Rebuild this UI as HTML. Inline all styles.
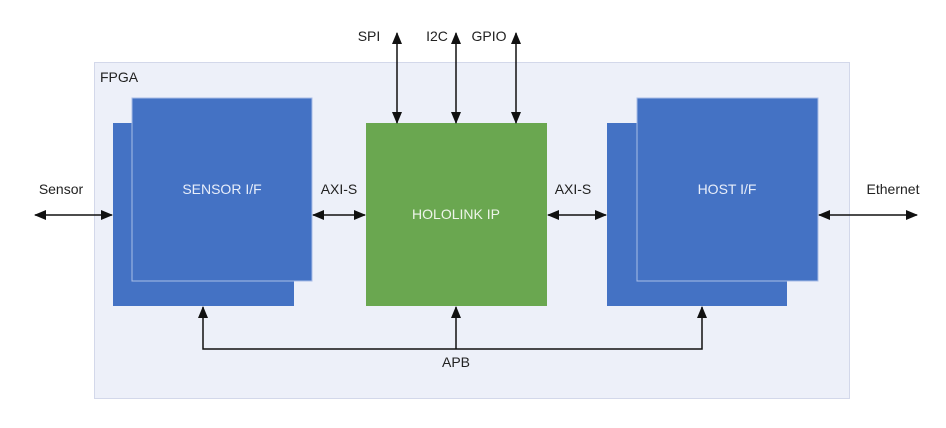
<!DOCTYPE html>
<html><head><style>
body{margin:0;background:#fff;}
svg{display:block;}
text{font-family:"Liberation Sans",sans-serif;font-size:14px;}
</style></head><body>
<svg width="946" height="428" viewBox="0 0 946 428" xmlns="http://www.w3.org/2000/svg">
<defs>
<marker id="a" viewBox="0 0 12 10" refX="11" refY="5" markerWidth="12" markerHeight="10" markerUnits="userSpaceOnUse" orient="auto-start-reverse">
<path d="M0,0 L12,5 L0,10 z" fill="#111"/></marker>
</defs>
<rect x="94.5" y="62.5" width="755" height="336" fill="#edf0f9" stroke="#d3d8ea"/>
<text x="100" y="82" fill="#222">FPGA</text>
<rect x="113" y="123" width="181" height="183" fill="#4472c4"/>
<rect x="132" y="98" width="180" height="183" fill="#4472c4" stroke="#a9bde6" stroke-width="1"/>
<text x="222" y="194" fill="#e8eefa" text-anchor="middle">SENSOR I/F</text>
<rect x="366" y="123" width="181" height="183" fill="#6aa750"/>
<text x="456" y="219" fill="#eef5ea" text-anchor="middle">HOLOLINK IP</text>
<rect x="607" y="123" width="180" height="183" fill="#4472c4"/>
<rect x="637" y="98" width="181" height="183" fill="#4472c4" stroke="#a9bde6" stroke-width="1"/>
<text x="727" y="194" fill="#e8eefa" text-anchor="middle">HOST I/F</text>
<g stroke="#111" stroke-width="1.5" fill="none">
<line x1="35" y1="215" x2="112" y2="215" marker-start="url(#a)" marker-end="url(#a)"/>
<line x1="313" y1="215" x2="365" y2="215" marker-start="url(#a)" marker-end="url(#a)"/>
<line x1="548" y1="215" x2="606" y2="215" marker-start="url(#a)" marker-end="url(#a)"/>
<line x1="819" y1="215" x2="917" y2="215" marker-start="url(#a)" marker-end="url(#a)"/>
<line x1="397" y1="33" x2="397" y2="123" marker-start="url(#a)" marker-end="url(#a)"/>
<line x1="456" y1="33" x2="456" y2="123" marker-start="url(#a)" marker-end="url(#a)"/>
<line x1="516" y1="33" x2="516" y2="123" marker-start="url(#a)" marker-end="url(#a)"/>
<polyline points="203,307 203,349 702,349 702,307" marker-start="url(#a)" marker-end="url(#a)"/>
<line x1="456" y1="349" x2="456" y2="307" marker-end="url(#a)"/>
</g>
<g fill="#222" text-anchor="middle">
<text x="369" y="41">SPI</text>
<text x="437" y="41">I2C</text>
<text x="489" y="41">GPIO</text>
<text x="61" y="194">Sensor</text>
<text x="339" y="194">AXI-S</text>
<text x="573" y="194">AXI-S</text>
<text x="893" y="194">Ethernet</text>
<text x="456" y="367">APB</text>
</g>
</svg>
</body></html>
